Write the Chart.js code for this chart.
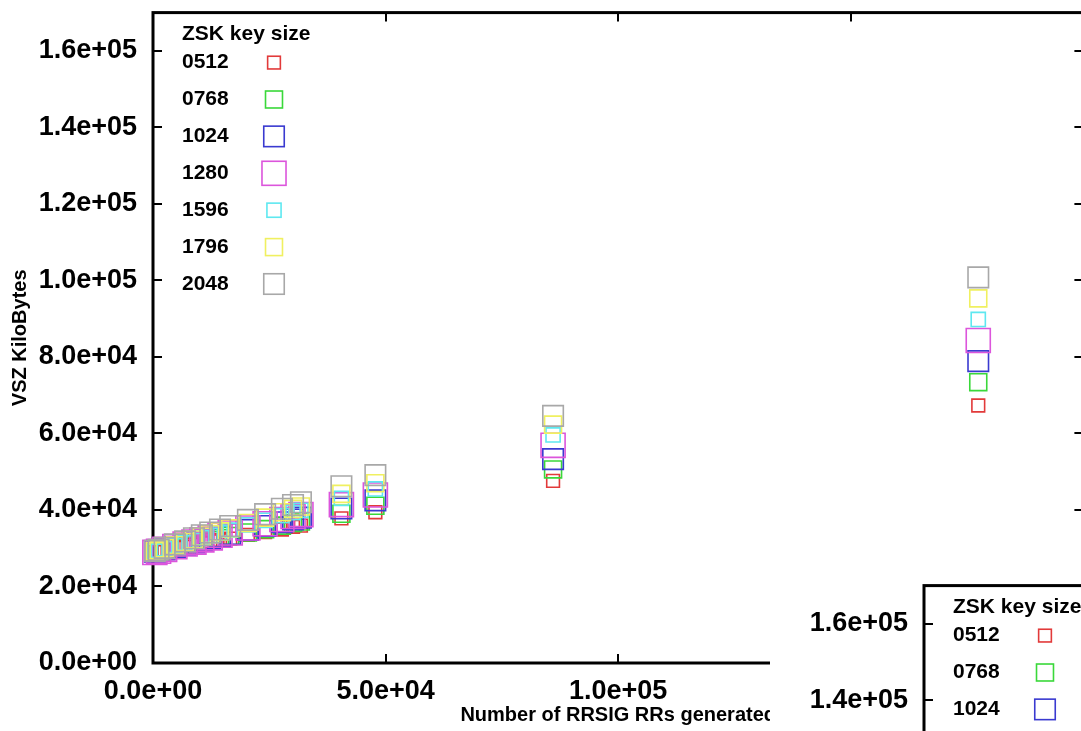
<!DOCTYPE html>
<html>
<head>
<meta charset="utf-8">
<script src="https://cdn.jsdelivr.net/npm/chart.js@4"></script>
<style>
  html, body { margin: 0; padding: 0; background: #fff; overflow: hidden; }
  #wrap { position: relative; width: 1081px; height: 731px; overflow: hidden; }
  #main { position: absolute; left: 0; top: -6px; }
  #overlay { position: absolute; left: 770px; top: 572px; width: 311px; height: 159px; overflow: hidden; background: #fff; }
  #second { position: absolute; left: 1px; top: -5px; }
</style>
</head>
<body>
<div id="wrap">
  <canvas id="main" width="1102" height="737"></canvas>
  <div id="overlay"><canvas id="second" width="1102" height="737"></canvas></div>
</div>
<script>
// number of RRSIG RRs generated (x)
const xValues = [400, 1200, 2500, 4700, 6900, 8800, 10500, 12300, 14400, 16600, 20400, 24100, 27700, 30100, 31800, 40500, 47800, 86000, 177400];

// VSZ in KiloBytes per ZSK key size
const vsz0512 = [29000, 29300, 29500, 30100, 30400, 30900, 31300, 31800, 32100, 32500, 33500, 34200, 34900, 35600, 35900, 37800, 39400, 47600, 67300];
const vsz0768 = [29100, 29300, 29700, 30200, 30700, 31200, 31700, 32100, 32600, 33200, 34100, 35000, 35900, 36600, 37000, 39000, 41100, 50600, 73400];
const vsz1024 = [29100, 29400, 29700, 30300, 30900, 31500, 32000, 32500, 33100, 33700, 34800, 35800, 36800, 37500, 38000, 40400, 42500, 53300, 78900];
const vsz1280 = [28900, 29200, 29700, 30400, 31100, 31600, 32200, 32700, 33400, 34000, 35300, 36400, 37500, 38300, 38800, 41400, 43900, 56900, 84300];
const vsz1596 = [29200, 29500, 29900, 30700, 31400, 32000, 32700, 33300, 34000, 34700, 36100, 37300, 38500, 39300, 39900, 43000, 45500, 59600, 89800];
const vsz1796 = [29200, 29500, 30000, 30800, 31600, 32300, 33000, 33700, 34400, 35200, 36600, 38000, 39400, 40300, 40900, 44200, 47000, 62300, 95300];
const vsz2048 = [29300, 29600, 30100, 31000, 31800, 32600, 33400, 34100, 34900, 35800, 37400, 38900, 40300, 41300, 42000, 46200, 49100, 64600, 100800];

const keySizes = ["0512", "0768", "1024", "1280", "1596", "1796", "2048"];
const seriesValues = [vsz0512, vsz0768, vsz1024, vsz1280, vsz1596, vsz1796, vsz2048];

const xTickValues = [0, 50000, 100000, 150000, 200000];
const yTickValues = [0, 20000, 40000, 60000, 80000, 100000, 120000, 140000, 160000];

const colors = ["#e23a3a", "#3ad83a", "#3a3ad0", "#dc55dc", "#5ee8f0", "#f0f060", "#a8a8a8"];
const radii = [9, 12, 14.5, 17, 10, 12, 14.5]; // rect side = radius * sqrt(2)

// gnuplot style number: 5.0e+04
function sci(v) {
  const parts = Number(v).toExponential(1).split("e");
  const sign = parts[1][0];
  const exp = parts[1].slice(1).padStart(2, "0");
  return parts[0] + "e" + sign + exp;
}

const FONT = "'Liberation Sans', Arial, sans-serif";

// border box + inward ticks on all four sides
const frame = {
  id: "frame",
  beforeDatasetsDraw(chart) {
    const { ctx, chartArea: a, scales } = chart;
    ctx.save();
    ctx.strokeStyle = "#000";
    ctx.lineWidth = 2;
    const tl = 9;
    ctx.beginPath();
    xTickValues.forEach((v) => {
      const px = Math.round(scales.x.getPixelForValue(v));
      ctx.moveTo(px, a.bottom); ctx.lineTo(px, a.bottom - tl);
      ctx.moveTo(px, a.top); ctx.lineTo(px, a.top + tl);
    });
    yTickValues.forEach((v) => {
      const py = Math.round(scales.y.getPixelForValue(v));
      ctx.moveTo(a.left, py); ctx.lineTo(a.left + tl, py);
      ctx.moveTo(a.right, py); ctx.lineTo(a.right - tl, py);
    });
    ctx.stroke();
    ctx.lineWidth = 3;
    ctx.strokeRect(a.left, a.top, a.right - a.left, a.bottom - a.top);
    ctx.restore();
  },
};

// legend inside the plot, top left
const keyBox = {
  id: "keyBox",
  afterDatasetsDraw(chart) {
    const { ctx, chartArea: a } = chart;
    ctx.save();
    ctx.fillStyle = "#000";
    ctx.textBaseline = "middle";
    ctx.textAlign = "left";
    ctx.font = "bold 21px " + FONT;
    ctx.fillText("ZSK key size", a.left + 29, a.top + 22);
    chart.data.datasets.forEach((ds, i) => {
      const y = a.top + 50 + i * 36.9;
      ctx.fillStyle = "#000";
      ctx.font = "bold 21px " + FONT;
      ctx.fillText(ds.label, a.left + 29, y);
      const s = ds.pointRadius * Math.SQRT2;
      ctx.strokeStyle = ds.borderColor;
      ctx.lineWidth = 1.6;
      ctx.strokeRect(a.left + 121 - s / 2, y - s / 2, s, s);
    });
    ctx.restore();
  },
};

function buildConfig() {
  return {
    type: "scatter",
    data: {
      datasets: keySizes.map((k, i) => ({
        label: k,
        data: xValues.map((x, j) => ({ x: x, y: seriesValues[i][j] })),
        pointStyle: "rect",
        pointRadius: radii[i],
        pointHoverRadius: radii[i],
        borderColor: colors[i],
        backgroundColor: "rgba(0,0,0,0)",
        borderWidth: 1.6,
        order: 6 - i, // last key size drawn on top
        clip: false,
      })),
    },
    options: {
      responsive: false,
      animation: false,
      events: [],
      layout: { padding: { top: 6, right: 1, bottom: 0, left: 0 } },
      plugins: { legend: { display: false }, tooltip: { enabled: false } },
      scales: {
        x: {
          type: "linear",
          min: 0,
          max: 200000,
          afterBuildTicks: (s) => { s.ticks = xTickValues.map((v) => ({ value: v })); },
          afterFit: (s) => {
            s.height = 68;
            s.paddingLeft = 0;
            s.paddingRight = 0;
          },
          grid: { display: false, drawTicks: false },
          border: { display: false },
          ticks: {
            padding: 12,
            color: "#000",
            font: { family: FONT, size: 27, weight: "bold" },
            maxRotation: 0,
            callback: (v) => (v === 200000 ? "" : sci(v)),
          },
          title: {
            display: true,
            text: "Number of RRSIG RRs generated",
            color: "#000",
            font: { family: FONT, size: 20, weight: "bold" },
            padding: { top: 0, bottom: 4 },
          },
        },
        y: {
          type: "linear",
          min: 0,
          max: 170000,
          afterBuildTicks: (s) => { s.ticks = yTickValues.map((v) => ({ value: v })); },
          afterFit: (s) => {
            s.width = 153;
            s.paddingTop = 0;
            s.paddingBottom = 0;
          },
          grid: { display: false, drawTicks: false },
          border: { display: false },
          ticks: {
            padding: 16,
            color: "#000",
            font: { family: FONT, size: 27, weight: "bold" },
            callback: (v) => sci(v),
          },
          title: {
            display: true,
            text: "VSZ KiloBytes",
            color: "#000",
            font: { family: FONT, size: 20, weight: "bold" },
            padding: { top: 8, bottom: 0 },
          },
        },
      },
    },
    plugins: [frame, keyBox],
  };
}

const mainChart = new Chart(document.getElementById("main"), buildConfig());
// second copy of the same figure pasted over the bottom right corner
const secondChart = new Chart(document.getElementById("second"), buildConfig());
</script>
</body>
</html>
